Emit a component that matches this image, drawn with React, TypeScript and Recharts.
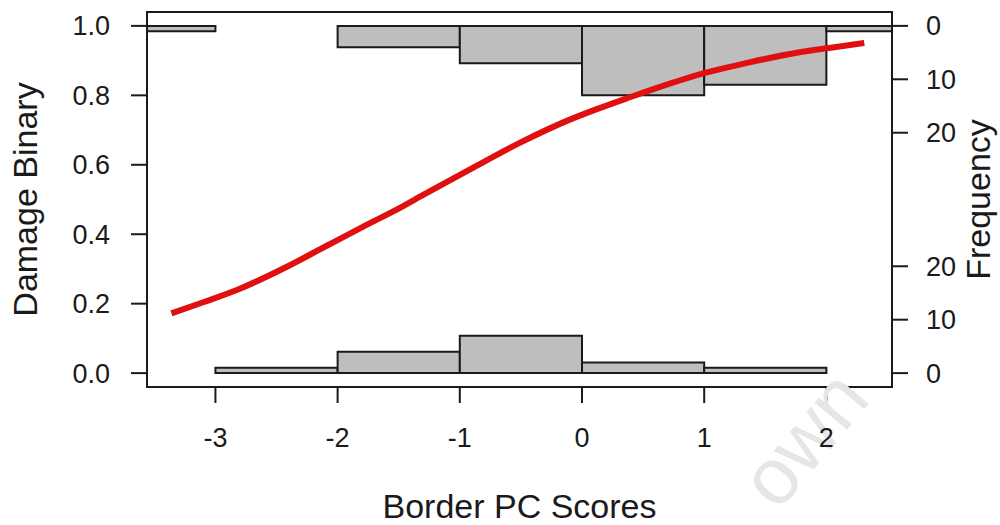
import React from 'react';
import { ComposedChart, Line, XAxis, YAxis, ReferenceArea } from 'recharts';

// ---- data ----
const xTicks = [-3, -2, -1, 0, 1, 2];
const yTicks = [0, 0.2, 0.4, 0.6, 0.8, 1.0];
const freqTickLabels = [0, 10, 20];
const histScale = 65; // max count (13) * scale.hist (5)

const binEdges = [-4, -3, -2, -1, 0, 1, 2, 3];
const countsAtOne = [1, 0, 4, 7, 13, 11, 1];
const countsAtZero = [0, 1, 4, 7, 2, 1, 0];

const curveX = [-3.36, -3.1, -2.8, -2.44, -2.12, -1.79, -1.49, -1.3, -0.92, -0.51, -0.1, 0.15, 0.38, 0.56, 0.97, 1.37, 1.78, 2.05, 2.31];
const curveY = [0.172, 0.204, 0.243, 0.302, 0.361, 0.422, 0.476, 0.513, 0.586, 0.663, 0.73, 0.764, 0.793, 0.815, 0.861, 0.895, 0.924, 0.938, 0.951];

const XMIN = -3.56;
const XMAX = 2.537;
const YMIN = -0.04;
const YMAX = 1.04;

const curveData = curveX.map((x, i) => ({ x, y: curveY[i] }));

const rightTicks = [
  ...freqTickLabels.map((f) => f / histScale),
  ...[...freqTickLabels].reverse().map((f) => 1 - f / histScale),
];
const rightLabels = [...freqTickLabels, ...[...freqTickLabels].reverse()];

const FONT = '"Liberation Sans", Arial, Helvetica, sans-serif';
const INK = '#1a1a1a';
const tickStyle = { fontSize: 27, fill: INK, fontFamily: FONT };
const tickLineStyle = { stroke: INK, strokeWidth: 2 };

const XTitle = (props: any) => {
  const vb = props.viewBox || {};
  const cx = vb.x + vb.width / 2;
  return (
    <g>
      <text
        x={872}
        y={400}
        textAnchor="end"
        fontSize={80}
        fontFamily={FONT}
        fill="#e6e6e6"
        transform="rotate(-50, 872, 400)"
      >
        own
      </text>
      <text x={cx} y={vb.y + vb.height - 7} textAnchor="middle" fontSize={34} fontFamily={FONT} fill={INK}>
        Border PC Scores
      </text>
    </g>
  );
};

const LeftTitle = (props: any) => {
  const vb = props.viewBox || {};
  const cx = vb.x + 37;
  const cy = vb.y + vb.height / 2;
  return (
    <text x={cx} y={cy} textAnchor="middle" fontSize={34} fontFamily={FONT} fill={INK} transform={`rotate(-90, ${cx}, ${cy})`}>
      Damage Binary
    </text>
  );
};

const RightTitle = (props: any) => {
  const vb = props.viewBox || {};
  const cx = vb.x + 98;
  const cy = vb.y + vb.height / 2;
  return (
    <text x={cx} y={cy} textAnchor="middle" fontSize={34} fontFamily={FONT} fill={INK} transform={`rotate(-90, ${cx}, ${cy})`}>
      Frequency
    </text>
  );
};

export default function App() {
  const topBars = countsAtOne
    .map((c, i) => ({ c, x1: binEdges[i], x2: binEdges[i + 1] }))
    .filter((b) => b.c > 0);
  const bottomBars = countsAtZero
    .map((c, i) => ({ c, x1: binEdges[i], x2: binEdges[i + 1] }))
    .filter((b) => b.c > 0);

  return (
    <div style={{ position: 'absolute', left: 0, top: 0, background: '#fff' }}>
      <ComposedChart width={1000} height={525} data={curveData} margin={{ top: 12, right: 0, bottom: 0, left: 0 }}>
        <XAxis
          type="number"
          dataKey="x"
          domain={[XMIN, XMAX]}
          ticks={xTicks}
          interval={0}
          allowDataOverflow
          axisLine={false}
          tickSize={16}
          tickMargin={25}
          tickLine={tickLineStyle}
          tick={tickStyle}
          height={138}
          label={XTitle}
        />
        <YAxis
          yAxisId="left"
          orientation="left"
          type="number"
          domain={[YMIN, YMAX]}
          ticks={yTicks}
          interval={0}
          allowDataOverflow
          tickFormatter={(v: number) => v.toFixed(1)}
          axisLine={false}
          tickSize={16}
          tickMargin={21}
          tickLine={tickLineStyle}
          tick={tickStyle}
          width={147}
          label={LeftTitle}
        />
        <YAxis
          yAxisId="right"
          orientation="right"
          type="number"
          domain={[YMIN, YMAX]}
          ticks={rightTicks}
          interval={0}
          allowDataOverflow
          tickFormatter={(_v: number, i: number) => String(rightLabels[i])}
          axisLine={false}
          tickSize={16}
          tickMargin={18}
          tickLine={tickLineStyle}
          tick={tickStyle}
          width={108}
          label={RightTitle}
        />
        {topBars.map((b, i) => (
          <ReferenceArea
            key={'t' + i}
            yAxisId="left"
            x1={b.x1}
            x2={b.x2}
            y1={1 - b.c / histScale}
            y2={1}
            fill="#bebebe"
            fillOpacity={1}
            stroke={INK}
            strokeWidth={2}
            ifOverflow="hidden"
          />
        ))}
        {bottomBars.map((b, i) => (
          <ReferenceArea
            key={'b' + i}
            yAxisId="left"
            x1={b.x1}
            x2={b.x2}
            y1={0}
            y2={b.c / histScale}
            fill="#bebebe"
            fillOpacity={1}
            stroke={INK}
            strokeWidth={2}
            ifOverflow="hidden"
          />
        ))}
        <Line
          yAxisId="left"
          type="monotone"
          dataKey="y"
          stroke="#e01010"
          strokeWidth={6}
          dot={false}
          activeDot={false}
          isAnimationActive={false}
        />
        <ReferenceArea
          yAxisId="left"
          x1={XMIN}
          x2={XMAX}
          y1={YMIN}
          y2={YMAX}
          fill="none"
          fillOpacity={0}
          stroke={INK}
          strokeWidth={2}
          ifOverflow="visible"
        />
      </ComposedChart>
    </div>
  );
}
